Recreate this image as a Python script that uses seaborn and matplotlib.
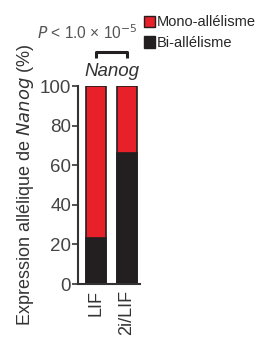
import matplotlib
matplotlib.use("Agg")
import matplotlib.pyplot as plt
import seaborn as sns
import pandas as pd

conditions = ["LIF", "2i/LIF"]
bi_allelic = [23, 66]
mono_allelic = [77, 34]

sns.set_theme(style="ticks")
plt.rcParams['font.family'] = ['Liberation Sans', 'DejaVu Sans']

df = pd.DataFrame({"cond": conditions, "bi": bi_allelic, "mono": mono_allelic})
df["total"] = df["bi"] + df["mono"]

red = "#E8202A"
black = "#231F20"
txt = "#333333"

fig = plt.figure(figsize=(2.61, 3.43), dpi=100)
ax = fig.add_axes([0.299, 0.172, 0.237, 0.577])

sns.barplot(data=df, x="cond", y="total", color=red, width=0.65, edgecolor=black,
            linewidth=1.2, saturation=1, ax=ax)
sns.barplot(data=df, x="cond", y="bi", color=black, width=0.65, edgecolor=black,
            linewidth=1.2, saturation=1, ax=ax)

ax.set_xlim(-0.58, 1.42)
ax.set_ylim(0, 100)
ax.set_yticks([0, 20, 40, 60, 80, 100])
ax.set_xlabel("")
ax.set_ylabel("Expression allélique de $\\it{Nanog}$ (%)", fontsize=13, color=txt, labelpad=3)
ax.tick_params(axis="y", labelsize=13.5, colors="#444444", width=1.3, length=4, pad=1)
ax.tick_params(axis="x", labelsize=13, colors=txt, length=0, pad=4)
for lab in ax.get_xticklabels():
    lab.set_rotation(90)
for s in ["top", "right"]:
    ax.spines[s].set_visible(False)
for s in ["left", "bottom"]:
    ax.spines[s].set_linewidth(1.5)
    ax.spines[s].set_color(txt)

bx = ax.get_xaxis_transform()
ax.text(0.5, 1.03, "Nanog", transform=bx, ha="center", va="bottom",
        fontsize=13.5, style="italic", color=txt)
ax.plot([0, 0, 1, 1], [1.14, 1.17, 1.17, 1.14], transform=bx, color=black, lw=2.2,
        clip_on=False, solid_capstyle="butt")
fig.text(0.142, 0.905, "$P$ < 1.0 × 10$^{-5}$", fontsize=11.2, color="#555555",
         ha="left", va="center")

from matplotlib.patches import Patch
handles = [Patch(facecolor=red, edgecolor=black, label="Mono-allélisme"),
           Patch(facecolor=black, edgecolor=black, label="Bi-allélisme")]
fig.legend(handles=handles, loc="upper left", bbox_to_anchor=(0.55, 0.955), frameon=False,
           fontsize=10.5, handlelength=0.8, handleheight=0.8, handletextpad=0.1,
           labelspacing=0.45, borderaxespad=0, borderpad=0)

fig.savefig("out.png", dpi=100)
